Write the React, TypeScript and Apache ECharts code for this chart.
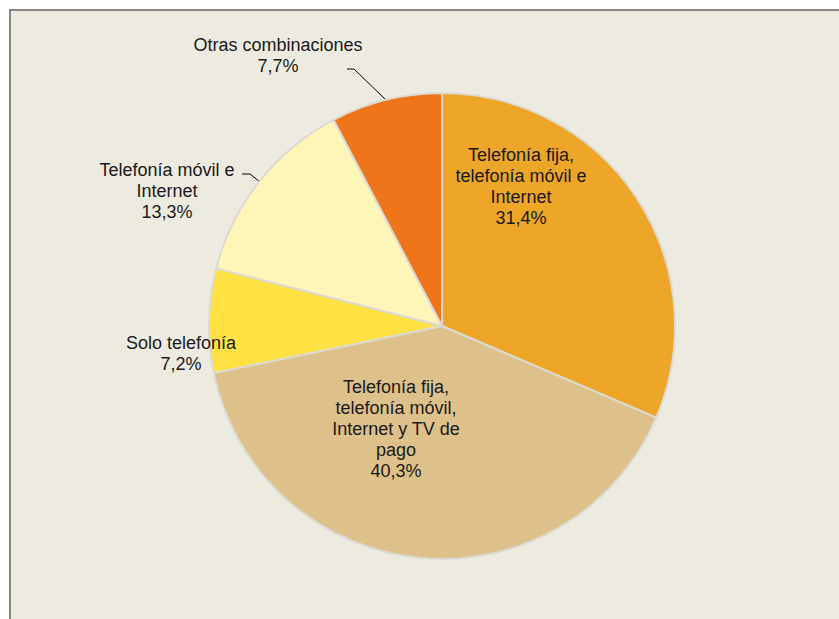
import React, { useEffect, useRef } from "react";
import * as echarts from "echarts";

const categories = [
  "Telefonía fija,\ntelefonía móvil e\nInternet",
  "Telefonía fija,\ntelefonía móvil,\nInternet y TV de\npago",
  "Solo telefonía",
  "Telefonía móvil e\nInternet",
  "Otras combinaciones",
];
const values = [31.4, 40.3, 7.2, 13.3, 7.7];
const colors = ["#EEA629", "#DEC08B", "#FFE143", "#FFF5B9", "#EE7519"];

// label layout (pixel positions, styling only)
const labelPos = [
  { x: 521, y: 186 },
  { x: 396, y: 429 },
  { x: 181, y: 353 },
  { x: 167, y: 191 },
  { x: 278, y: 55 },
];
const leaderLines: Record<number, number[][]> = {
  3: [[242, 174], [250, 174], [260, 182]],
  4: [[347, 69], [354, 69], [386, 100]],
};

export default function App() {
  const ref = useRef<HTMLDivElement>(null);
  useEffect(() => {
    document.body.style.margin = "0";
    const chart = echarts.init(ref.current!, null, { renderer: "svg" });
    chart.setOption({
      animation: false,
      backgroundColor: "#ffffff",
      graphic: [
        {
          type: "rect",
          z: -10,
          shape: { x: 10, y: 10, width: 840, height: 620 },
          style: { fill: "#EDEAE0", stroke: "#888888", lineWidth: 2 },
        },
      ],
      series: [
        {
          type: "pie",
          center: [442, 326],
          radius: 233,
          startAngle: 90,
          clockwise: true,
          z: 2,
          itemStyle: { borderColor: "#DCDBD3", borderWidth: 2 },
          label: {
            show: true,
            color: "#1a1a1a",
            fontFamily: "Liberation Sans, Arial, sans-serif",
            fontSize: 18,
            lineHeight: 21,
            align: "center",
            formatter: (p: any) =>
              p.name + "\n" + String(p.value).replace(".", ",") + "%",
          },
          labelLine: { show: true, lineStyle: { color: "#000000", width: 1 } },
          labelLayout: (params: any) => {
            const i = params.dataIndex;
            const r: any = {
              x: labelPos[i].x,
              y: labelPos[i].y,
              align: "center",
              verticalAlign: "middle",
            };
            if (leaderLines[i]) r.labelLinePoints = leaderLines[i];
            return r;
          },
          data: categories.map((c, i) => ({
            name: c,
            value: values[i],
            itemStyle: { color: colors[i] },
            labelLine: { show: !!leaderLines[i] },
          })),
        },
      ],
    });
    return () => chart.dispose();
  }, []);
  return <div ref={ref} style={{ width: 839, height: 619 }} />;
}
